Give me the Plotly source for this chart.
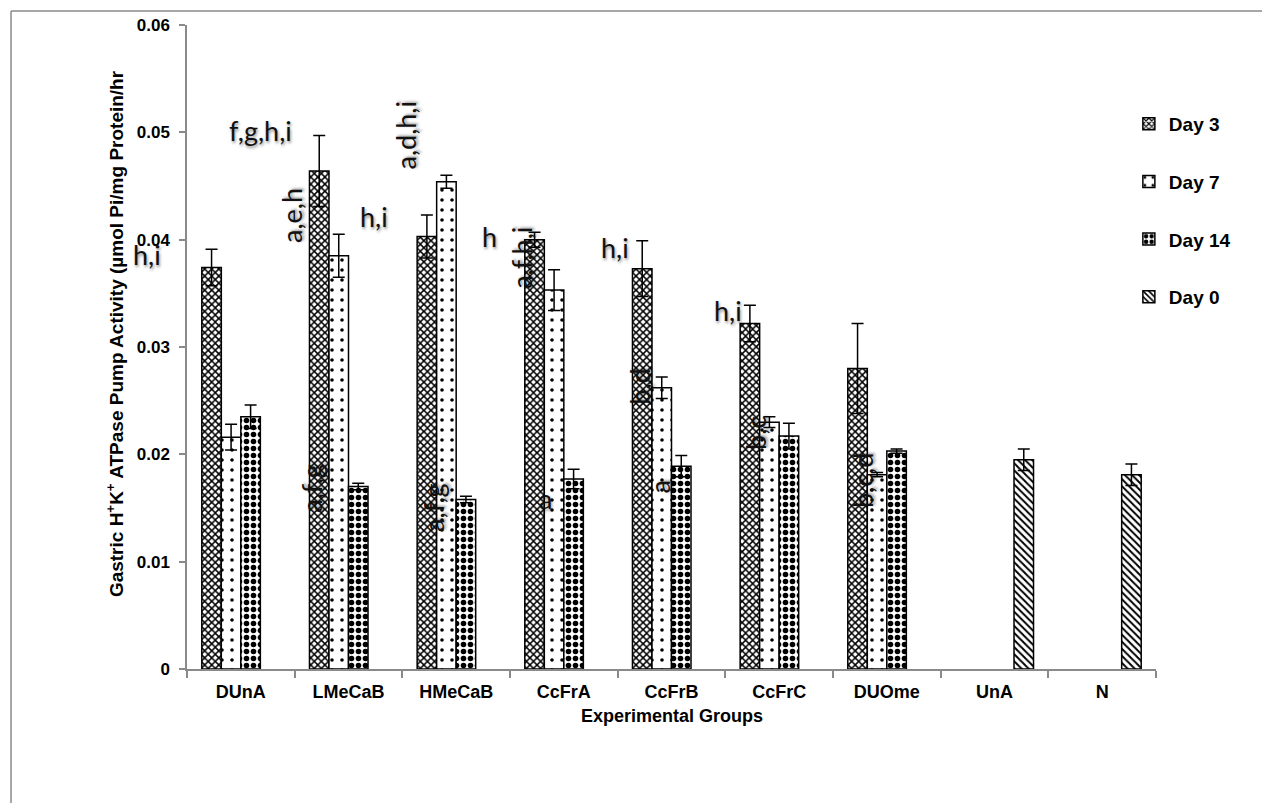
import plotly.graph_objects as go

# Experimental groups on the x axis
groups = ["DUnA", "LMeCaB", "HMeCaB", "CcFrA", "CcFrB", "CcFrC", "DUOme", "UnA", "N"]

# Mean gastric H+/K+ ATPase activity (µmol Pi/mg protein/hr) and error
day3 = [0.0374, 0.0464, 0.0403, 0.0400, 0.0373, 0.0322, 0.0280, None, None]
day3_err = [0.0017, 0.0033, 0.0020, 0.0007, 0.0026, 0.0017, 0.0042, None, None]
day7 = [0.0216, 0.0385, 0.0454, 0.0353, 0.0262, 0.0230, 0.0181, None, None]
day7_err = [0.0012, 0.0020, 0.0006, 0.0019, 0.0010, 0.0005, 0.0002, None, None]
day14 = [0.0235, 0.0170, 0.0158, 0.0177, 0.0189, 0.0217, 0.0203, None, None]
day14_err = [0.0011, 0.0003, 0.0003, 0.0009, 0.0010, 0.0012, 0.0002, None, None]
day0 = [None, None, None, None, None, None, None, 0.0195, 0.0181]
day0_err = [None, None, None, None, None, None, None, 0.0010, 0.0010]

y_ticks = [0, 0.01, 0.02, 0.03, 0.04, 0.05, 0.06]
y_tick_text = ["0", "0.01", "0.02", "0.03", "0.04", "0.05", "0.06"]

# Significance letters: text, position along the category axis, value position, rotated
sig_text = ["h,i", "f,g,h,i", "a,e,h", "h,i", "a,d,h,i", "h", "a,f,h,i", "a,f,g",
            "a,f,g", "a", "h,i", "b,d", "a", "h,i", "b,c", "b,c,d"]
sig_x = [-0.872, 0.178, 0.475, 1.237, 1.534, 2.314, 2.611, 0.661,
         1.794, 2.834, 3.475, 3.707, 3.893, 4.525, 4.785, 5.769]
sig_y = [0.0386, 0.0502, 0.0423, 0.0422, 0.0497, 0.0403, 0.0383, 0.0168,
         0.0151, 0.0159, 0.0393, 0.0263, 0.0170, 0.0334, 0.0220, 0.0176]
sig_rot = [False, False, True, False, True, False, True, True,
           True, False, False, True, True, False, True, True]

CAT_PX = 969 / 9  # pixel width of one category slot

series = [
    ("Day 3", day3, day3_err, dict(shape="x", size=5, solidity=0.5)),
    ("Day 7", day7, day7_err, dict(shape=".", size=10, solidity=0.1)),
    ("Day 14", day14, day14_err, dict(shape=".", size=7, solidity=0.5)),
    ("Day 0", day0, day0_err, dict(shape="\\", size=5, solidity=0.4)),
]

fig = go.Figure()
for name, vals, errs, pat in series:
    fig.add_trace(go.Bar(
        name=name,
        x=groups,
        y=vals,
        legendgroup=name,
        marker=dict(
            color="white",
            line=dict(color="black", width=1.5),
            pattern=dict(fgcolor="black", bgcolor="white", fillmode="replace", **pat),
        ),
        error_y=dict(type="data", array=errs, visible=True,
                     color="black", thickness=1.5, width=6),
    ))

annotations = []
for t, x, y, rot in zip(sig_text, sig_x, sig_y, sig_rot):
    # letters left of the first slot are anchored at the axis edge and shifted
    shift = 0
    if x < -0.5:
        shift = (x + 0.5) * CAT_PX
        x = -0.5
    annotations.append(dict(
        text=t, x=x, y=y, xref="x", yref="y", showarrow=False,
        xshift=shift, xanchor="center", yanchor="middle",
        textangle=-90 if rot else 0,
        font=dict(family="Lato", size=27, color="#111111",
                  shadow="1px 2px 3px rgba(0,0,0,0.45)"),
    ))

annotations.append(dict(
    text="Gastric H<sup>+</sup>K<sup>+</sup> ATPase Pump Activity (µmol Pi/mg Protein/hr",
    x=-0.0743, y=0.52, xref="paper", yref="paper", showarrow=False,
    xanchor="center", yanchor="middle",
    textangle=-90, font=dict(family="Liberation Sans", size=19, color="black", weight="bold"),
))
annotations.append(dict(
    text="Experimental Groups",
    x=0.5005, y=-0.073, xref="paper", yref="paper", showarrow=False,
    xanchor="center", yanchor="middle",
    font=dict(family="Liberation Sans", size=18, color="black", weight="bold"),
))

fig.update_layout(
    width=1262, height=803,
    margin=dict(l=187, r=106, t=25, b=134),
    paper_bgcolor="white", plot_bgcolor="white",
    barmode="group", bargap=0.275, bargroupgap=0,
    font=dict(family="Liberation Sans", color="black"),
    annotations=annotations,
    legend=dict(
        x=0.972, y=0.876, xanchor="left", yanchor="top",
        font=dict(family="Liberation Sans", size=19, color="black", weight="bold"),
        tracegroupgap=30, bgcolor="rgba(0,0,0,0)",
    ),
    showlegend=True,
    shapes=[
        # outer chart frame (top and left edges)
        dict(type="line", xref="paper", yref="paper",
             x0=-0.1816, y0=1.0217, x1=1.2, y1=1.0217,
             line=dict(color="#8a8a8a", width=1.5)),
        dict(type="line", xref="paper", yref="paper",
             x0=-0.1816, y0=1.0217, x1=-0.1816, y1=-0.25,
             line=dict(color="#8a8a8a", width=1.5)),
    ],
)

fig.update_xaxes(
    type="category", showline=True, linecolor="#8a8a8a", linewidth=1.5,
    ticks="outside", tickson="boundaries", ticklen=7, tickcolor="#8a8a8a", tickwidth=1.5,
    showgrid=False, ticklabelstandoff=6,
    tickfont=dict(family="Liberation Sans", size=18, color="black", weight="bold"),
    range=[-0.5, 8.5],
)
fig.update_yaxes(
    range=[0, 0.06], tickvals=y_ticks, ticktext=y_tick_text,
    showline=True, linecolor="#8a8a8a", linewidth=1.5,
    ticks="outside", ticklen=6, tickcolor="#8a8a8a", tickwidth=1.5,
    showgrid=False, zeroline=False, ticklabelstandoff=6,
    tickfont=dict(family="Liberation Sans", size=17, color="black", weight="bold"),
)

fig.write_html("out.html")
